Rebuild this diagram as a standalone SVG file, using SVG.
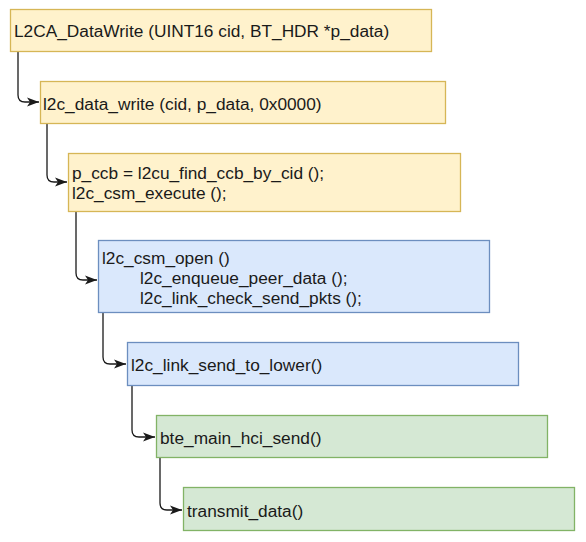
<svg xmlns="http://www.w3.org/2000/svg" width="586" height="542" viewBox="0 0 586 542">
<style>
text{font-family:"Liberation Sans",Arial,sans-serif;font-size:17.3px;fill:#1a1a1a}
.y{fill:#fff2cc;stroke:#d6b656;stroke-width:1.3}
.b{fill:#dae8fc;stroke:#6c8ebf;stroke-width:1.3}
.g{fill:#d5e8d4;stroke:#82b366;stroke-width:1.3}
.e{fill:none;stroke:#1a1a1a;stroke-width:1.3}
</style>
<defs>
<marker id="arr" markerUnits="userSpaceOnUse" markerWidth="13" markerHeight="11" refX="12" refY="5.5" orient="auto" viewBox="0 0 13 11">
<path d="M0,1 L12,5.5 L0,10 L3,5.5 Z" fill="#1a1a1a"/>
</marker>
</defs>
<rect width="586" height="542" fill="#ffffff"/>
<g id="connectors">
<path class="e" d="M18,52 L18,95 Q18,102 25,102 L39,102" marker-end="url(#arr)"/>
<path class="e" d="M47,124 L47,175 Q47,182 54,182 L67,182" marker-end="url(#arr)"/>
<path class="e" d="M76,212 L76,273 Q76,280 83,280 L97,280" marker-end="url(#arr)"/>
<path class="e" d="M103,313 L103,357 Q103,364 110,364 L126,364" marker-end="url(#arr)"/>
<path class="e" d="M132,386 L132,430 Q132,437 139,437 L155,437" marker-end="url(#arr)"/>
<path class="e" d="M160,458 L160,503 Q160,510 167,510 L182,510" marker-end="url(#arr)"/>
</g>
<g id="n1">
<rect class="y" x="10.5" y="9.5" width="421" height="42"/>
<text x="14" y="37">L2CA_DataWrite (UINT16 cid, BT_HDR *p_data)</text>
</g>
<g id="n2">
<rect class="y" x="40.5" y="81.5" width="405" height="42"/>
<text x="43" y="110">l2c_data_write (cid, p_data, 0x0000)</text>
</g>
<g id="n3">
<rect class="y" x="68.5" y="153.5" width="392" height="58"/>
<text x="72" y="179">p_ccb = l2cu_find_ccb_by_cid ();</text>
<text x="72" y="199">l2c_csm_execute ();</text>
</g>
<g id="n4">
<rect class="b" x="98.5" y="240.5" width="391" height="72"/>
<text x="102" y="264">l2c_csm_open ()</text>
<text x="140" y="284">l2c_enqueue_peer_data ();</text>
<text x="140" y="304">l2c_link_check_send_pkts ();</text>
</g>
<g id="n5">
<rect class="b" x="127.5" y="342.5" width="391" height="43"/>
<text x="131" y="371">l2c_link_send_to_lower()</text>
</g>
<g id="n6">
<rect class="g" x="156.5" y="415.5" width="391" height="42"/>
<text x="160" y="444">bte_main_hci_send()</text>
</g>
<g id="n7">
<rect class="g" x="183.5" y="487.5" width="391" height="43"/>
<text x="187" y="517">transmit_data()</text>
</g>
</svg>
